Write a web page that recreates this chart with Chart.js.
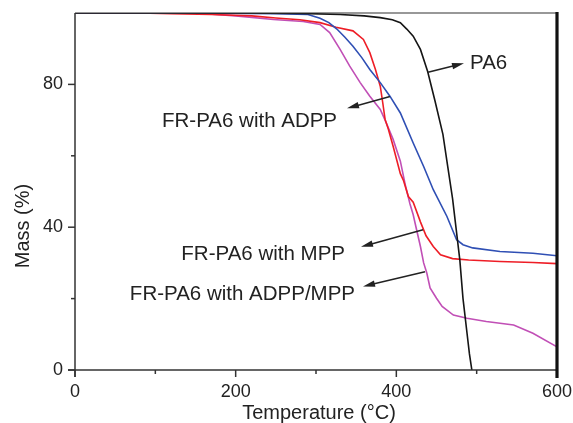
<!DOCTYPE html>
<html><head><meta charset="utf-8">
<script src="https://cdn.jsdelivr.net/npm/chart.js@4.4.1/dist/chart.umd.min.js"></script>
<style>html,body{margin:0;padding:0;background:#fff;}#wrap{width:573px;height:423px;}</style>
</head><body><div id="wrap"><canvas id="c" width="573" height="423"></canvas></div>
<script>
// ---- data (temperature °C, mass %) ----
const pa6T  = [0, 100, 200, 280, 330, 360, 380, 395, 405, 413, 421, 430, 439, 448, 458, 464, 470, 475, 479, 483, 488, 491, 494];
const pa6M  = [100, 100, 100, 99.9, 99.6, 99.2, 98.7, 98.1, 97.3, 95.5, 93.5, 89.8, 83.6, 75.5, 66, 57, 48, 38.5, 30.9, 20, 10.3, 4.5, 0];

const adppT = [0, 150, 250, 290, 305, 316, 326, 336, 346, 357, 367, 380, 392, 405, 421, 434, 446, 463, 475, 483, 495, 529, 570, 600];
const adppM = [100, 100, 99.8, 99.6, 98.5, 97.3, 95.5, 93.2, 90.7, 87.5, 84.2, 80.5, 76.7, 72, 63.6, 57, 50.5, 43, 36.5, 35.1, 34.2, 33.2, 32.7, 32];

const mppT  = [0, 80, 120, 170, 220, 250, 280, 305, 325, 346, 359, 367, 374, 380, 383, 386, 390, 396, 405, 409, 415, 421, 430, 437, 446, 455, 470, 490, 529, 570, 600];
const mppM  = [100, 100, 99.8, 99.6, 99.2, 98.6, 98.1, 97.3, 96, 95, 92.6, 88.9, 84.2, 79.5, 75, 70.2, 67.5, 62.7, 55, 53, 48.6, 47, 41.5, 37.6, 34.6, 32.3, 31.2, 30.8, 30.4, 30.1, 29.8];

const bothT = [0, 150, 200, 247, 284, 305, 317, 330, 342, 355, 367, 380, 386, 396, 405, 411, 417, 421, 425, 430, 434, 438, 442, 450, 457, 471, 488, 512, 546, 570, 600];
const bothM = [100, 100, 99.2, 98.2, 97.6, 96.8, 94.5, 89.8, 85.1, 80.5, 76.7, 73, 70, 64.6, 58.5, 52, 46.5, 43.5, 39.5, 34.6, 30, 27.1, 23, 20.1, 17.8, 15.4, 14.5, 13.6, 12.6, 10.3, 6.5];

const seriesNames = ['PA6', 'FR-PA6 with ADPP', 'FR-PA6 with MPP', 'FR-PA6 with ADPP/MPP'];
const xMajorTicks = [0, 200, 400, 600];
const xMinorTicks = [100, 300, 500];
const yMajorTicks = [0, 40, 80];
const yMinorTicks = [20, 60];

// annotation label anchor (data coords) and arrow start/end (data coords)
const labelText  = ['PA6', 'FR-PA6 with ADPP', 'FR-PA6 with MPP', 'FR-PA6 with ADPP/MPP'];
const labelAlign = ['left', 'right', 'right', 'right'];
const labelX     = [491.7, 326.2, 336.1, 348.6];
const labelY     = [84.2, 68.2, 30.7, 19.6];
const arrowFromX = [439.4, 392.1, 433.2, 435.7];
const arrowFromY = [83.4, 76.6, 39.3, 27.5];
const arrowToX   = [484.2, 338.6, 356.0, 358.5];
const arrowToY   = [85.9, 73.3, 34.5, 23.4];

const pts = (t, m) => t.map((v, i) => ({x: v, y: m[i]}));
const FONT = '"Liberation Sans", Arial, Helvetica, sans-serif';
const INK = '#222';

const framePlugin = {
  id: 'frame',
  afterDatasetsDraw(chart) {
    const ctx = chart.ctx, xs = chart.scales.x, ys = chart.scales.y;
    const {left, right, top, bottom} = chart.chartArea;
    ctx.save();
    ctx.strokeStyle = '#333';
    ctx.lineCap = 'butt';
    ctx.lineWidth = 1.2;
    ctx.beginPath(); ctx.moveTo(left, top); ctx.lineTo(right, top); ctx.stroke();
    ctx.lineWidth = 1.5;
    ctx.beginPath(); ctx.moveTo(left, top); ctx.lineTo(left, bottom + 7); ctx.stroke();
    ctx.beginPath(); ctx.moveTo(left - 7, bottom); ctx.lineTo(right, bottom); ctx.stroke();
    ctx.strokeStyle = '#111';
    ctx.lineWidth = 3.2;
    ctx.beginPath(); ctx.moveTo(right, top - 1); ctx.lineTo(right, bottom + 8); ctx.stroke();
    ctx.strokeStyle = '#333';
    ctx.lineWidth = 1.5;
    xMajorTicks.forEach(v => { const p = xs.getPixelForValue(v); if (v !== 600) { ctx.beginPath(); ctx.moveTo(p, bottom); ctx.lineTo(p, bottom + 7); ctx.stroke(); } });
    xMinorTicks.forEach(v => { const p = xs.getPixelForValue(v); ctx.beginPath(); ctx.moveTo(p, bottom); ctx.lineTo(p, bottom + 4); ctx.stroke(); });
    yMajorTicks.forEach(v => { const p = ys.getPixelForValue(v); ctx.beginPath(); ctx.moveTo(left - 7, p); ctx.lineTo(left, p); ctx.stroke(); });
    yMinorTicks.forEach(v => { const p = ys.getPixelForValue(v); ctx.beginPath(); ctx.moveTo(left - 4, p); ctx.lineTo(left, p); ctx.stroke(); });

    ctx.fillStyle = INK;
    ctx.font = '20px ' + FONT;
    ctx.textAlign = 'center';
    ctx.textBaseline = 'alphabetic';
    ctx.fillText('Temperature (\u00B0C)', (left + right) / 2 + 3, 419);
    ctx.save();
    ctx.translate(29, 226);
    ctx.rotate(-Math.PI / 2);
    ctx.fillText('Mass (%)', 0, 0);
    ctx.restore();

    ctx.font = '20.5px ' + FONT;
    labelText.forEach((txt, i) => {
      ctx.textAlign = labelAlign[i];
      ctx.fillText(txt, xs.getPixelForValue(labelX[i]), ys.getPixelForValue(labelY[i]));
      const x0 = xs.getPixelForValue(arrowFromX[i]), y0 = ys.getPixelForValue(arrowFromY[i]);
      const x1 = xs.getPixelForValue(arrowToX[i]), y1 = ys.getPixelForValue(arrowToY[i]);
      const ang = Math.atan2(y1 - y0, x1 - x0);
      const L = 12, W = 3.2;
      ctx.strokeStyle = INK; ctx.lineWidth = 1.5;
      ctx.beginPath(); ctx.moveTo(x0, y0);
      ctx.lineTo(x1 - L * 0.6 * Math.cos(ang), y1 - L * 0.6 * Math.sin(ang)); ctx.stroke();
      ctx.beginPath();
      ctx.moveTo(x1, y1);
      ctx.lineTo(x1 - L * Math.cos(ang) + W * Math.sin(ang), y1 - L * Math.sin(ang) - W * Math.cos(ang));
      ctx.lineTo(x1 - L * Math.cos(ang) - W * Math.sin(ang), y1 - L * Math.sin(ang) + W * Math.cos(ang));
      ctx.closePath(); ctx.fill();
    });
    ctx.restore();
  }
};

new Chart(document.getElementById('c'), {
  type: 'line',
  data: {
    datasets: [
      {label: seriesNames[0], data: pts(pa6T, pa6M), borderColor: '#151515', borderWidth: 1.6},
      {label: seriesNames[1], data: pts(adppT, adppM), borderColor: '#2f4fb4', borderWidth: 1.6},
      {label: seriesNames[2], data: pts(mppT, mppM), borderColor: '#ee1d26', borderWidth: 1.6},
      {label: seriesNames[3], data: pts(bothT, bothM), borderColor: '#c14fb6', borderWidth: 1.6}
    ]
  },
  options: {
    responsive: false,
    animation: false,
    devicePixelRatio: 1,
    layout: {padding: {top: 13, right: 16, left: 0, bottom: 0}},
    elements: {point: {radius: 0}, line: {tension: 0}},
    plugins: {legend: {display: false}, tooltip: {enabled: false}},
    scales: {
      x: {
        type: 'linear', min: 0, max: 600,
        afterFit: s => { s.height = 53; s.paddingLeft = 0; s.paddingRight = 0; },
        grid: {display: false},
        border: {display: false},
        ticks: {stepSize: 200, color: INK, font: {size: 18, family: FONT}, padding: 3, maxRotation: 0, autoSkip: false}
      },
      y: {
        type: 'linear', min: 0, max: 100,
        afterFit: s => { s.width = 75; s.paddingTop = 0; s.paddingBottom = 0; },
        afterBuildTicks: s => { s.ticks = yMajorTicks.map(v => ({value: v})); },
        grid: {display: false},
        border: {display: false},
        ticks: {color: INK, font: {size: 18, family: FONT}, padding: 4}
      }
    }
  },
  plugins: [framePlugin]
});
</script>
</body></html>
